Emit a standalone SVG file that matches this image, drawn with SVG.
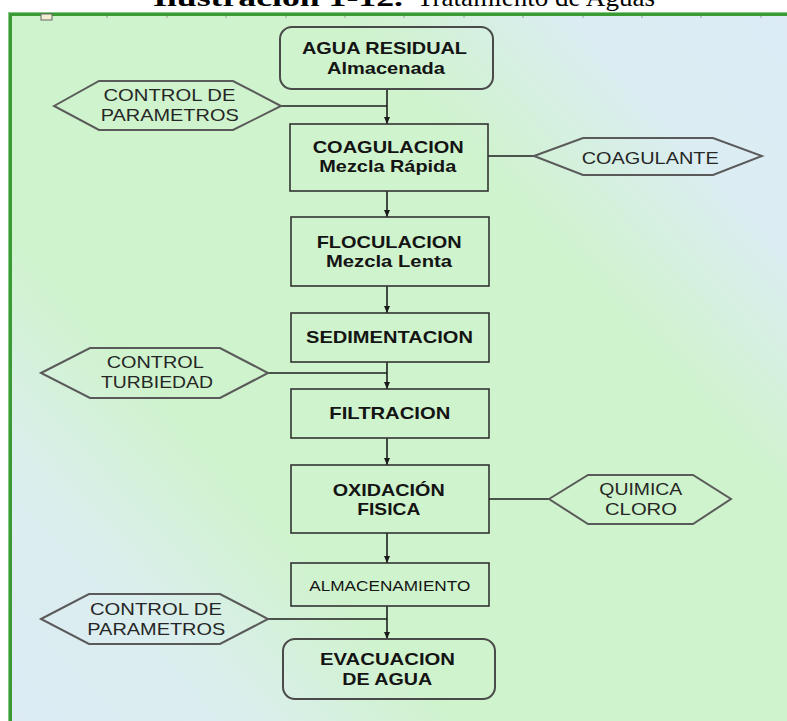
<svg xmlns="http://www.w3.org/2000/svg" width="787" height="721" viewBox="0 0 787 721">
<defs>
<linearGradient id="bg" gradientUnits="userSpaceOnUse" x1="787" y1="0" x2="0" y2="721">
<stop offset="0" stop-color="#dcebf6"/>
<stop offset="0.16" stop-color="#dbedf2"/>
<stop offset="0.32" stop-color="#cff3cc"/>
<stop offset="0.68" stop-color="#cff3cc"/>
<stop offset="0.83" stop-color="#dbeeee"/>
<stop offset="1" stop-color="#dcebf5"/>
</linearGradient>
<marker id="arr" viewBox="0 0 7 6" refX="7" refY="3" markerWidth="7" markerHeight="6" markerUnits="userSpaceOnUse" orient="auto">
<path d="M0,0 L7,3 L0,6 Z" fill="#1a1a1a"/>
</marker>
<style>
.box{fill:none;stroke:#333;stroke-width:1.6}
.rbox{fill:none;stroke:#4a4a4a;stroke-width:2}
.hex{fill:none;stroke:#5a5a5a;stroke-width:2}
.bt{font-family:"Liberation Sans",Arial,sans-serif;font-weight:bold;font-size:16.5px;fill:#141414}
.st{font-family:"Liberation Sans",Arial,sans-serif;font-size:14px;fill:#141414}
.ht{font-family:"Liberation Sans",Arial,sans-serif;font-size:16.5px;fill:#262626}
.ln{fill:none;stroke:#1e1e1e;stroke-width:1.6}
.title{font-family:"Liberation Serif","DejaVu Serif",serif;font-size:26px;fill:#000}
</style>
</defs>
<rect x="0" y="0" width="787" height="721" fill="#ffffff"/>
<rect x="12" y="16" width="775" height="705" fill="url(#bg)"/>
<g id="frame">
<line x1="8" y1="12.5" x2="787" y2="12.5" stroke="#86c984" stroke-width="1"/>
<line x1="8.5" y1="12" x2="8.5" y2="721" stroke="#86c984" stroke-width="1"/>
<line x1="10" y1="14.5" x2="787" y2="14.5" stroke="#3a9a34" stroke-width="3"/>
<line x1="10.5" y1="13" x2="10.5" y2="721" stroke="#3a9a34" stroke-width="3"/>
<g stroke="#9a9a9a" stroke-width="1">
<line x1="48" y1="16" x2="48" y2="18"/><line x1="107" y1="16" x2="107" y2="18"/><line x1="167" y1="16" x2="167" y2="18"/><line x1="226" y1="16" x2="226" y2="18"/><line x1="286" y1="16" x2="286" y2="18"/><line x1="345" y1="16" x2="345" y2="18"/><line x1="404" y1="16" x2="404" y2="18"/><line x1="464" y1="16" x2="464" y2="18"/><line x1="523" y1="16" x2="523" y2="18"/><line x1="583" y1="16" x2="583" y2="18"/><line x1="642" y1="16" x2="642" y2="18"/><line x1="701" y1="16" x2="701" y2="18"/><line x1="761" y1="16" x2="761" y2="18"/>
</g>
<rect x="41" y="14" width="11" height="6" fill="#f2eed4" stroke="#666" stroke-width="1"/>
</g>
<g id="title">
<text class="title" y="6"><tspan x="153" font-weight="bold" textLength="250" lengthAdjust="spacingAndGlyphs">Ilustración 1-12.</tspan><tspan x="417" textLength="238" lengthAdjust="spacingAndGlyphs">Tratamiento de Aguas</tspan></text>
</g>
<g id="connectors">
<line class="ln" x1="387" y1="89" x2="387" y2="124" marker-end="url(#arr)"/>
<line class="ln" x1="281" y1="106" x2="387" y2="106"/>
<line class="ln" x1="387" y1="191" x2="387" y2="217" marker-end="url(#arr)"/>
<line class="ln" x1="488" y1="156" x2="534" y2="156"/>
<line class="ln" x1="387" y1="286" x2="387" y2="313" marker-end="url(#arr)"/>
<line class="ln" x1="387" y1="362" x2="387" y2="389" marker-end="url(#arr)"/>
<line class="ln" x1="268" y1="373" x2="387" y2="373"/>
<line class="ln" x1="387" y1="438" x2="387" y2="465" marker-end="url(#arr)"/>
<line class="ln" x1="489" y1="499" x2="549" y2="499"/>
<line class="ln" x1="387" y1="533" x2="387" y2="563" marker-end="url(#arr)"/>
<line class="ln" x1="387" y1="606" x2="387" y2="639" marker-end="url(#arr)"/>
<line class="ln" x1="268" y1="619" x2="387" y2="619"/>
</g>
<g id="agua-residual">
<rect class="rbox" x="280" y="27" width="213" height="62" rx="12"/>
<text class="bt" x="302" y="54.3" textLength="165" lengthAdjust="spacingAndGlyphs">AGUA RESIDUAL</text>
<text class="bt" x="327" y="74.3" textLength="118" lengthAdjust="spacingAndGlyphs">Almacenada</text>
</g>
<g id="control-parametros-1">
<polygon class="hex" points="54,106 99,81 233,81 281,106 233,130 99,130"/>
<text class="ht" x="103.5" y="100.7" textLength="132" lengthAdjust="spacingAndGlyphs">CONTROL DE</text>
<text class="ht" x="100.7" y="120.7" textLength="138" lengthAdjust="spacingAndGlyphs">PARAMETROS</text>
</g>
<g id="coagulacion">
<rect class="box" x="290" y="124" width="198" height="67"/>
<text class="bt" x="312.7" y="153.3" textLength="151" lengthAdjust="spacingAndGlyphs">COAGULACION</text>
<text class="bt" x="319.3" y="171.5" textLength="137" lengthAdjust="spacingAndGlyphs">Mezcla Rápida</text>
</g>
<g id="coagulante">
<polygon class="hex" points="534,156 583,138 713,138 762,156 713,175 583,175"/>
<text class="ht" x="581.7" y="164.3" textLength="137" lengthAdjust="spacingAndGlyphs">COAGULANTE</text>
</g>
<g id="floculacion">
<rect class="box" x="291" y="217" width="198" height="69"/>
<text class="bt" x="316.7" y="248.3" textLength="145" lengthAdjust="spacingAndGlyphs">FLOCULACION</text>
<text class="bt" x="326" y="267.3" textLength="126" lengthAdjust="spacingAndGlyphs">Mezcla Lenta</text>
</g>
<g id="sedimentacion">
<rect class="box" x="291" y="313" width="198" height="49"/>
<text class="bt" x="306" y="343.3" textLength="167" lengthAdjust="spacingAndGlyphs">SEDIMENTACION</text>
</g>
<g id="control-turbiedad">
<polygon class="hex" points="41,373 90,348 220,348 268,373 220,398 90,398"/>
<text class="ht" x="106.7" y="368.3" textLength="97" lengthAdjust="spacingAndGlyphs">CONTROL</text>
<text class="ht" x="101" y="388.3" textLength="112" lengthAdjust="spacingAndGlyphs">TURBIEDAD</text>
</g>
<g id="filtracion">
<rect class="box" x="291" y="389" width="198" height="49"/>
<text class="bt" x="329.3" y="419.3" textLength="121" lengthAdjust="spacingAndGlyphs">FILTRACION</text>
</g>
<g id="oxidacion">
<rect class="box" x="291" y="465" width="198" height="68"/>
<text class="bt" x="332.7" y="496" textLength="112" lengthAdjust="spacingAndGlyphs">OXIDACIÓN</text>
<text class="bt" x="357.3" y="515" textLength="63" lengthAdjust="spacingAndGlyphs">FISICA</text>
</g>
<g id="quimica-cloro">
<polygon class="hex" points="549,499 588,475 693,475 731,499 693,524 588,524"/>
<text class="ht" x="599.3" y="495" textLength="83" lengthAdjust="spacingAndGlyphs">QUIMICA</text>
<text class="ht" x="605" y="515" textLength="72" lengthAdjust="spacingAndGlyphs">CLORO</text>
</g>
<g id="almacenamiento">
<rect class="box" x="291" y="563" width="198" height="43"/>
<text class="st" x="309.3" y="591" textLength="161" lengthAdjust="spacingAndGlyphs">ALMACENAMIENTO</text>
</g>
<g id="control-parametros-2">
<polygon class="hex" points="41,619 89,594 220,594 268,619 220,644 89,644"/>
<text class="ht" x="90" y="615" textLength="132" lengthAdjust="spacingAndGlyphs">CONTROL DE</text>
<text class="ht" x="87.3" y="635" textLength="138" lengthAdjust="spacingAndGlyphs">PARAMETROS</text>
</g>
<g id="evacuacion">
<rect class="rbox" x="283" y="639" width="212" height="60" rx="12"/>
<text class="bt" x="320" y="665" textLength="135" lengthAdjust="spacingAndGlyphs">EVACUACION</text>
<text class="bt" x="342.3" y="685" textLength="90" lengthAdjust="spacingAndGlyphs">DE AGUA</text>
</g>
</svg>
